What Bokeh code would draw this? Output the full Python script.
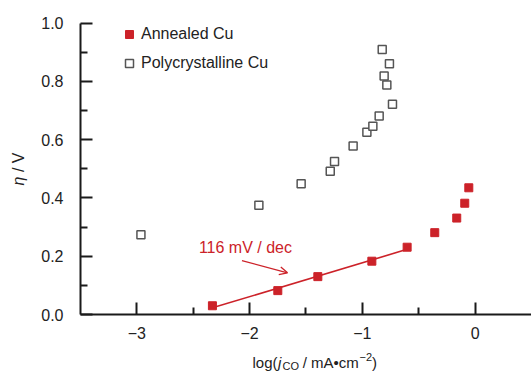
import math
import numpy as np
from bokeh.plotting import figure
from bokeh.models import (Range1d, FixedTicker, Legend, LegendItem, Label, Arrow, OpenHead,
                          LinearAxis)
from bokeh.embed import file_html
from bokeh.resources import INLINE

# ---- data ----
annealed_x = [-2.33, -1.75, -1.395, -0.916, -0.603, -0.358, -0.163, -0.092, -0.056]
annealed_y = [0.030, 0.082, 0.130, 0.183, 0.231, 0.281, 0.331, 0.382, 0.435]
poly_x = [-2.964, -1.918, -1.543, -1.285, -1.247, -1.082, -0.960, -0.907, -0.851,
          -0.733, -0.783, -0.807, -0.760, -0.824]
poly_y = [0.274, 0.375, 0.449, 0.492, 0.525, 0.578, 0.626, 0.646, 0.681,
          0.722, 0.788, 0.819, 0.861, 0.910]
n_fit = 5  # first points used for the Tafel fit
tafel_label = "116 mV / dec"
x_bounds = (-3.5, 0.5)
y_bounds = (0.0, 1.0)
x_ticks = [-3, -2, -1, 0]
x_tick_labels = ["\u22123", "\u22122", "\u22121", "0"]
x_minor = [-2.5, -1.5, -0.5]
y_ticks = [0.0, 0.2, 0.4, 0.6, 0.8, 1.0]
y_tick_labels = ["0.0", "0.2", "0.4", "0.6", "0.8", "1.0"]
y_minor = [0.1, 0.3, 0.5, 0.7, 0.9]

RED = "#cc2229"
GREY = "#555555"
FONT = "Liberation Sans"
NB = "\u00a0"

W, H = 531, 375
# frame covers the whole canvas; axes are pinned at the data origin
p = figure(width=W, height=H, output_backend="svg", toolbar_location=None,
           x_range=Range1d(-4.2095, 0.5), y_range=Range1d(-0.2094, 1.0779),
           x_axis_type=None, y_axis_type=None,
           min_border_left=0, min_border_right=0, min_border_top=0, min_border_bottom=0)
p.outline_line_color = None
p.xgrid.visible = False
p.ygrid.visible = False
p.background_fill_color = "white"

xaxis = LinearAxis(fixed_location=y_bounds[0], bounds=x_bounds)
yaxis = LinearAxis(fixed_location=x_bounds[0], bounds=y_bounds)
p.add_layout(xaxis, "below")
p.add_layout(yaxis, "left")

for ax, ticks, minor, labels, standoff in ((xaxis, x_ticks, x_minor, x_tick_labels, 12),
                                           (yaxis, y_ticks, y_minor, y_tick_labels, 17)):
    ax.ticker = FixedTicker(ticks=ticks, minor_ticks=minor)
    ax.major_label_overrides = {t: l for t, l in zip(ticks, labels)}
    ax.axis_line_width = 2
    ax.axis_line_color = "#1a1a1a"
    ax.major_tick_line_width = 2
    ax.major_tick_line_color = "#1a1a1a"
    ax.minor_tick_line_width = 2
    ax.minor_tick_line_color = "#1a1a1a"
    ax.major_tick_in = 12
    ax.major_tick_out = 0
    ax.minor_tick_in = 7
    ax.minor_tick_out = 0
    ax.major_label_text_font = FONT
    ax.major_label_text_font_size = "16px"
    ax.major_label_text_color = "#222222"
    ax.major_label_standoff = standoff

# fit line
coef = np.polyfit(annealed_x[:n_fit], annealed_y[:n_fit], 1)
fx = [annealed_x[0], annealed_x[n_fit - 1]]
fy = [coef[0] * x + coef[1] for x in fx]
p.line(fx, fy, line_color=RED, line_width=1.6)

r_ann = p.scatter(annealed_x, annealed_y, marker="square", size=8,
                  fill_color=RED, line_color=RED, line_width=1)
r_poly = p.scatter(poly_x, poly_y, marker="square", size=8,
                   fill_color="white", line_color=GREY, line_width=1.5)

# annotation
p.add_layout(Label(x=-2.45, y=0.231, text=tafel_label, text_color=RED,
                   text_font=FONT, text_font_size="16px", text_baseline="alphabetic"))
p.add_layout(Arrow(x_start=-2.068, y_start=0.185, x_end=-1.664, y_end=0.143,
                   line_color=RED, line_width=1.3,
                   end=OpenHead(size=8, line_color=RED, line_width=1.3)))

# legend
legend = Legend(items=[LegendItem(label="Annealed Cu", renderers=[r_ann]),
                       LegendItem(label="Polycrystalline Cu", renderers=[r_poly])],
                location=(119, 302), padding=0, margin=0, spacing=9,
                glyph_width=20, glyph_height=20, label_height=20, label_standoff=2,
                label_text_font=FONT, label_text_font_size="16px", label_text_color="#222222",
                border_line_alpha=0, background_fill_alpha=0)
p.add_layout(legend)


def lab(px, py, text, size="15px", style="normal", angle=0.0, baseline="alphabetic"):
    # px, py: pixel position from the top-left of the canvas
    p.add_layout(Label(x=px, y=H - py, x_units="screen", y_units="screen", text=text,
                       text_font=FONT, text_font_size=size, text_font_style=style,
                       text_color="#222222", angle=angle, text_align="left",
                       text_baseline=baseline))


# x axis label: log(j_CO / mA•cm^-2)
lab(252, 362, "log(")
lab(277.5, 362, "j", style="italic")
lab(282.0, 365.5, "CO", size="11px")
lab(298.0, 362, NB + "/" + NB + "mA\u2022cm")
lab(359.0, 356, "\u22122", size="11px")
lab(371.5, 362, ")")

# y axis label: η / V
lab(18, 185, "\u03b7", size="16px", style="italic", angle=math.pi / 2, baseline="middle")
lab(18, 176, NB + "/" + NB + "V", size="16px", angle=math.pi / 2, baseline="middle")

open("out.html", "w").write(file_html(p, INLINE))
